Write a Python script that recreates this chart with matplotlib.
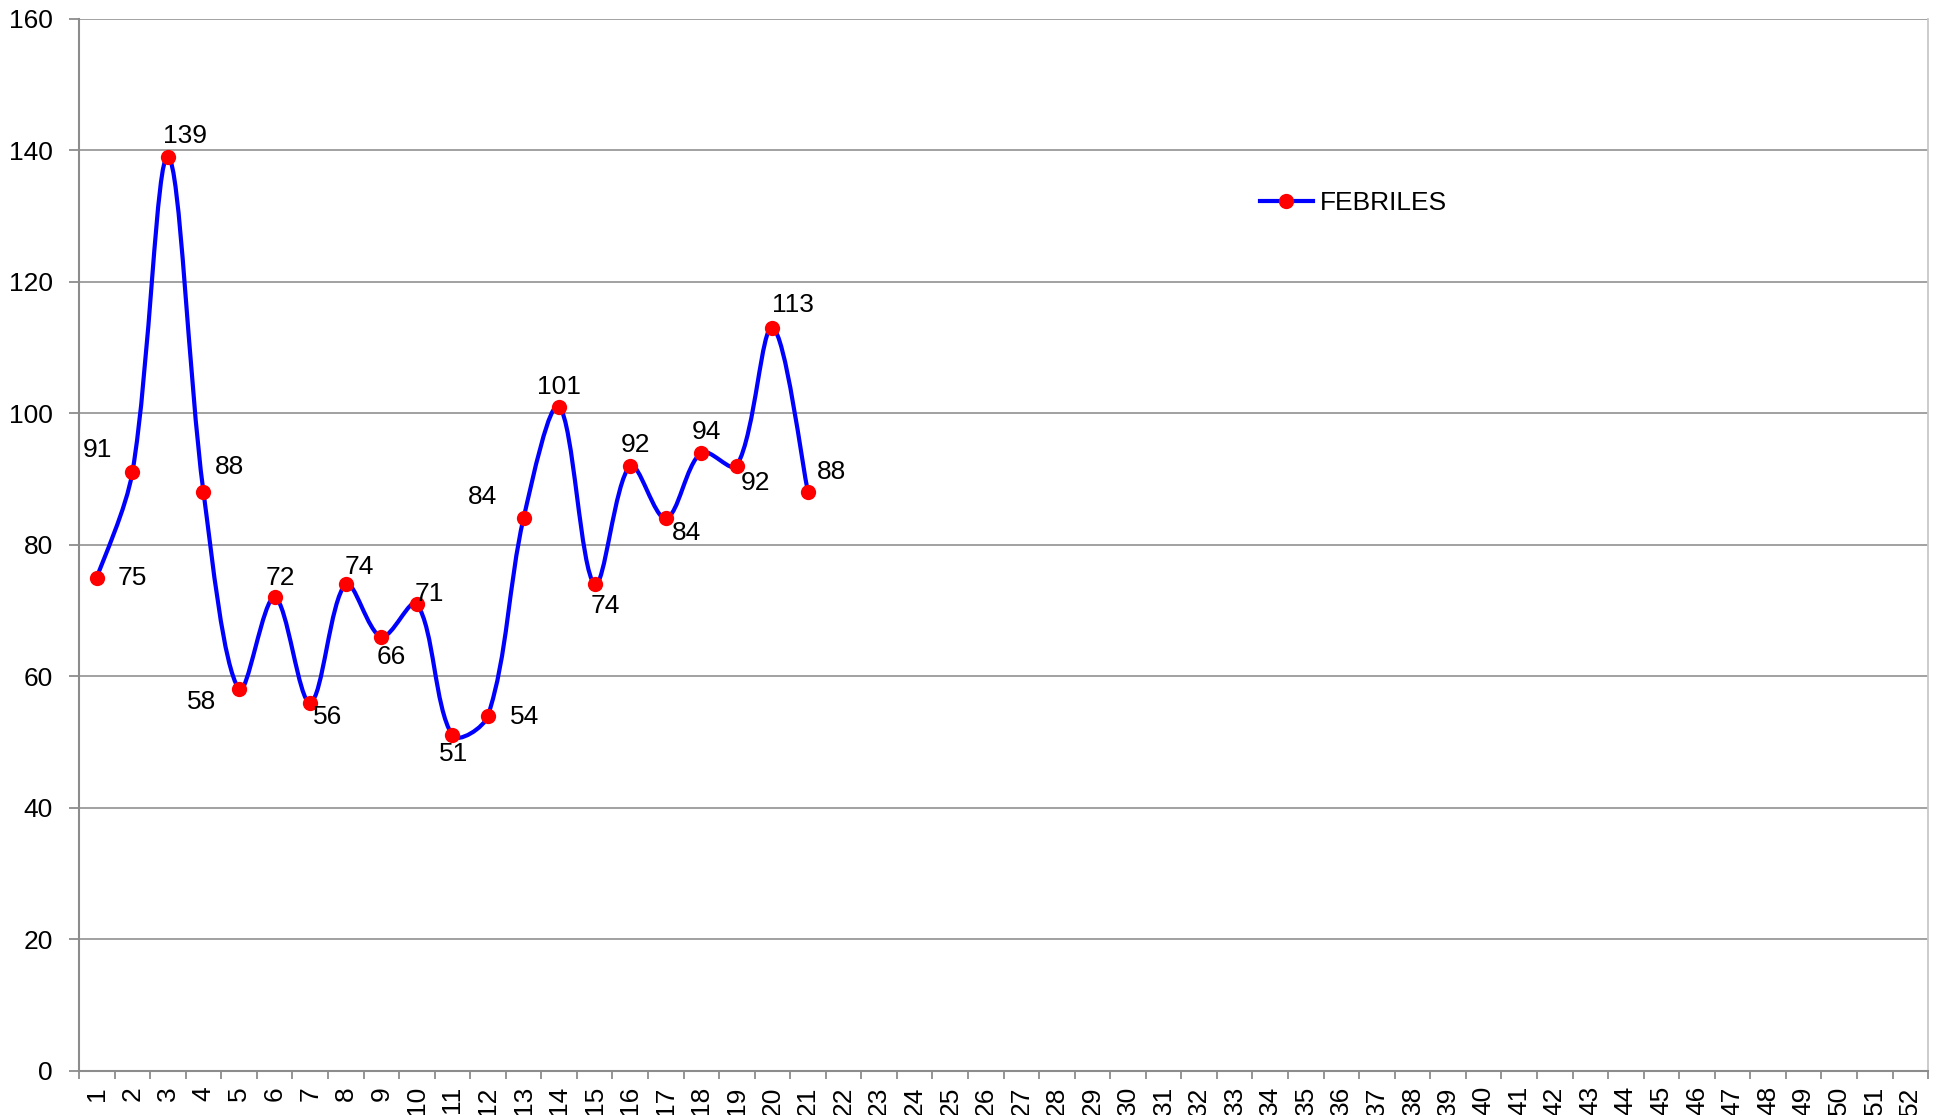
import matplotlib
import numpy as np

matplotlib.use("Agg")
import matplotlib.pyplot as plt  # noqa: E402
from matplotlib.lines import Line2D  # noqa: E402
from matplotlib.patches import PathPatch  # noqa: E402
from matplotlib.path import Path  # noqa: E402

plt.rcParams["font.family"] = ["Liberation Sans", "DejaVu Sans"]

# semanas epidemiológicas 1..52, datos hasta la semana 21
weeks = list(range(1, 53))
week_labels = [str(w) for w in weeks]
febriles = [75, 91, 139, 88, 58, 72, 56, 74, 66, 71, 51, 54, 84, 101, 74,
            92, 84, 94, 92, 113, 88]
series_name = "FEBRILES"
y_ticks = list(range(0, 161, 20))

# desplazamiento de cada etiqueta (px en la imagen reducida), como en Excel
label_dx = [29, -28, 14, 21, -30, 5, 14, 11, 8, 10, 1, 30, -33, 0, 9, 4, 17, 4, 15, 17, 19]
label_dy = [0, -18, -17, -20, 10, -16, 12, -14, 16, -8, 15, 1, -17, -16, 18, -17, 12, -17, 14, -18, -16]

FS = 19


def smooth_path(ax, x, y):
    """Curva suavizada tipo Excel: Bezier, tangentes ponderadas por longitud de cuerda
    (calculado en píxeles y devuelto en coordenadas de datos)."""
    pts = ax.transData.transform(np.column_stack([x, y]).astype(float))
    n = len(pts)
    seg = np.linalg.norm(np.diff(pts, axis=0), axis=1)
    out_arm = [None] * n
    in_arm = [None] * n
    for i in range(n):
        if i == 0:
            out_arm[i] = (pts[1] - pts[0]) / 6.0
            continue
        if i == n - 1:
            in_arm[i] = (pts[i] - pts[i - 1]) / 6.0
            continue
        tang = pts[i + 1] - pts[i - 1]
        d_in, d_out = seg[i - 1], seg[i]
        out_arm[i] = tang * d_out / (d_in + d_out) / 3.0
        in_arm[i] = tang * d_in / (d_in + d_out) / 3.0
    verts = [pts[0]]
    codes = [Path.MOVETO]
    for i in range(n - 1):
        verts += [pts[i] + out_arm[i], pts[i + 1] - in_arm[i + 1], pts[i + 1]]
        codes += [Path.CURVE4] * 3
    verts = ax.transData.inverted().transform(np.array(verts))
    return Path(verts, codes)


def main() -> None:
    fig = plt.figure(figsize=(19.37, 11.15), dpi=100)
    ax = fig.add_axes([0.0408, 0.0395, 0.9546, 0.9439])
    ax.set_xlim(0.5, 52.5)
    ax.set_ylim(0, 160)

    xs = weeks[:len(febriles)]
    ax.add_patch(PathPatch(smooth_path(ax, xs, febriles), facecolor="none",
                           edgecolor="#0000ff", lw=3.0, zorder=3))
    ax.plot(xs, febriles, "o", color="#ff0000", ms=11, mec="none", zorder=4)

    k = 1937 / 1568 * 0.72
    for x, v, dx, dy in zip(xs, febriles, label_dx, label_dy):
        ax.annotate(str(v), (x, v), xytext=(dx * k, -dy * k),
                    textcoords="offset points", ha="center", va="center",
                    fontsize=FS, color="black", zorder=5)

    ax.set_yticks(y_ticks)
    ax.yaxis.grid(True, color="#9a9a9a", lw=1.3)
    ax.set_axisbelow(True)
    ax.tick_params(axis="y", labelsize=FS, length=7, width=1.3, color="#8c8c8c", pad=12)

    # marcas entre categorías, etiquetas centradas
    ax.set_xticks(np.arange(0.5, 53, 1.0))
    ax.set_xticklabels([])
    ax.set_xticks(weeks, minor=True)
    ax.set_xticklabels(week_labels, minor=True, rotation=90)
    ax.tick_params(axis="x", which="major", length=6, width=1.3, color="#8c8c8c")
    ax.tick_params(axis="x", which="minor", length=0, labelsize=FS, pad=11)

    for side in ("left", "bottom"):
        ax.spines[side].set_color("#8c8c8c")
        ax.spines[side].set_linewidth(1.5)
    ax.spines["right"].set_color("#c8c8c8")
    ax.spines["right"].set_linewidth(1.3)
    ax.spines["top"].set_visible(False)

    handle = Line2D([], [], color="#0000ff", lw=3.0, marker="o", ms=11,
                    mfc="#ff0000", mec="none")
    ax.legend([handle], [series_name], loc="center left",
              bbox_to_anchor=(0.6387, 0.8247), frameon=False, fontsize=FS,
              borderpad=0, borderaxespad=0, handlelength=2.0, handletextpad=0.25)

    fig.savefig("out.png", dpi=100)


if __name__ == "__main__":
    main()
